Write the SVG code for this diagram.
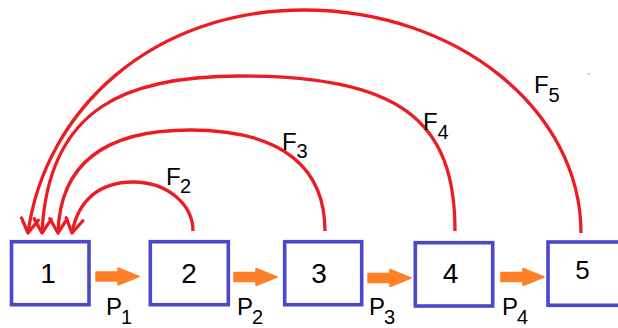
<svg xmlns="http://www.w3.org/2000/svg" width="618" height="328" viewBox="0 0 618 328">
<style>
.box{fill:#fff;stroke:#4848C8;stroke-width:3.6}
.lbl{font-family:"Liberation Sans",Arial,sans-serif;font-size:28px;fill:#000;text-anchor:middle}
.arc{fill:none;stroke:#EC1C24;stroke-width:3.3;marker-end:url(#v)}
.oa{fill:#FF7F27;stroke:#FF7F27;stroke-width:1.5;stroke-linejoin:round}
.t{font-family:"Liberation Sans",Arial,sans-serif;font-size:24px;fill:#000}
.s{font-size:20px}
</style>
<defs>
<marker id="v" markerUnits="userSpaceOnUse" markerWidth="30" markerHeight="30" viewBox="-16 -15 30 30" refX="0" refY="0" orient="auto">
<path d="M -14 -8.5 L 0 0 L -14 8.5" fill="none" stroke="#EC1C24" stroke-width="3.3" stroke-linecap="round" stroke-linejoin="round"/>
</marker>
<path id="oarrow" d="M 0 -4.5 L 22 -4.5 L 22 -8.5 L 43 0 L 22 8.5 L 22 4.5 L 0 4.5 Z"/>
</defs>
<g id="connectors">
<path class="arc" d="M 193 231 C 193 205 168 182 133 182 C 100 182 78 200 72 233"/>
<path class="arc" d="M 325 231 C 325 170 285 130 190 130 C 110 130 60 160 58 233"/>
<path class="arc" d="M 455 231 C 455 120 400 76 240 76 C 130 76 48 105 42 233"/>
<path class="arc" d="M 581 233 C 581 110 457 10 304 10 C 152 10 45 110 28 233"/>
<use href="#oarrow" class="oa" x="96" y="276.5"/>
<use href="#oarrow" class="oa" x="234" y="277"/>
<use href="#oarrow" class="oa" x="368" y="278"/>
<use href="#oarrow" class="oa" x="501" y="277"/>
</g>
<g id="node1"><rect class="box" x="11.5" y="241.7" width="77.5" height="63"/><text class="lbl" x="48" y="283">1</text></g>
<g id="node2"><rect class="box" x="150.3" y="241.7" width="78" height="63"/><text class="lbl" x="189" y="283">2</text></g>
<g id="node3"><rect class="box" x="284.7" y="241.7" width="77" height="63"/><text class="lbl" x="319" y="283">3</text></g>
<g id="node4"><rect class="box" x="415.3" y="242.7" width="77.4" height="63.3"/><text class="lbl" x="450.5" y="283">4</text></g>
<g id="node5"><rect class="box" x="548" y="242" width="77" height="63.3"/><text class="lbl" x="582.5" y="279" style="font-size:26px">5</text></g>
<g id="labels">
<text class="t" x="166" y="185">F<tspan class="s" x="180" y="193">2</tspan></text>
<text class="t" x="282" y="150">F<tspan class="s" x="296.5" y="158">3</tspan></text>
<text class="t" x="423" y="130">F<tspan class="s" x="437.5" y="139">4</tspan></text>
<text class="t" x="534" y="93">F<tspan class="s" x="548.5" y="102">5</tspan></text>
<text class="t" x="106" y="315">P<tspan class="s" x="121" y="324">1</tspan></text>
<text class="t" x="237" y="315">P<tspan class="s" x="252" y="324">2</tspan></text>
<text class="t" x="369" y="315">P<tspan class="s" x="384" y="324">3</tspan></text>
<text class="t" x="502" y="315">P<tspan class="s" x="517" y="324">4</tspan></text>
</g>
<rect x="588" y="73" width="1.5" height="2" fill="#F4A0A4"/>
</svg>
